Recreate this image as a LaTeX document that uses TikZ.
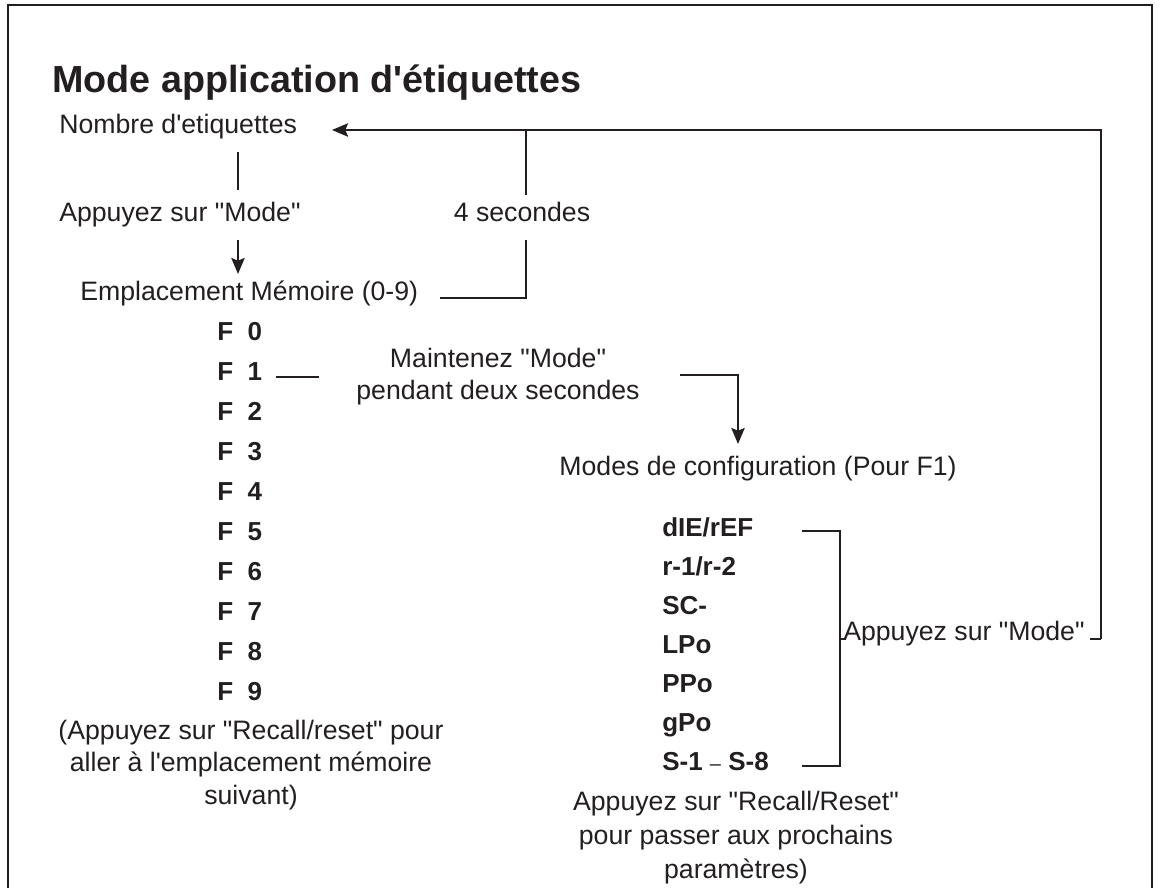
\documentclass[tikz,border=0pt]{standalone}
\usepackage{fontspec}
\setmainfont{Liberation Sans}
\newfontfamily\lsans{Liberation Sans}
\usetikzlibrary{arrows.meta}
\definecolor{ink}{HTML}{231F20}
\begin{document}
\begin{tikzpicture}[x=0.75pt,y=-0.75pt,
  txt/.style={inner sep=0pt, text=ink, font=\lsans\fontsize{20}{23.5}\selectfont},
  mtxt/.style={txt, align=center},
  btxt/.style={inner sep=0pt, text=ink, font=\lsans\fontsize{19.5}{23}\selectfont\bfseries, anchor=mid west},
  ln/.style={draw=ink, line width=1.6pt},
  arr/.style={ln, -{Stealth[length=12pt,width=10pt,inset=2pt]}}]
\useasboundingbox (0,0) rectangle (1160,888);
% frame
\draw[ln] (8,888) -- (8,5) -- (1152,5) -- (1152,888);
% title
\node[inner sep=0pt, text=ink, font=\lsans\fontsize{28.3}{34}\selectfont\bfseries, anchor=base west] (title) at (52,93) {Mode application d'étiquettes};
% left column
\node[txt, anchor=mid west] (nombre) at (59,130) {Nombre d'etiquettes};
\node[txt, anchor=mid west] (appuyez1) at (59,218) {Appuyez sur "Mode"};
\node[txt, anchor=mid west] (empl) at (80,297) {Emplacement Mémoire (0-9)};
\node[txt, anchor=mid] (quatre) at (522,218) {4 secondes};
\coordinate (v1a) at (238,152); \coordinate (v1b) at (238,190);
\coordinate (v2a) at (238,240); \coordinate (v2b) at (238,274);
\draw[ln] (v1a) -- (v1b);
\draw[arr] (v2a) -- (v2b);
\coordinate (e1) at (440,298); \coordinate (e2) at (526,298); \coordinate (e3) at (526,240);
\coordinate (q1) at (526,195); \coordinate (q2) at (526,130);
\coordinate (tr) at (1101,130); \coordinate (tip) at (332,130);
\coordinate (mr) at (1101,639); \coordinate (me) at (1090,639);
\draw[ln] (e1) -- (e2) -- (e3);
\draw[ln] (q1) -- (q2);
\draw[arr] (mr) -- (tr) -- (tip);
\draw[ln] (mr) -- (me);
% F list
\foreach \i in {0,...,9} {
  \node[btxt] (F\i) at (217,{337+40*\i}) {F\hspace{0.56em}\i};
}
\coordinate (f1a) at (276,377); \coordinate (f1b) at (319,377);
\draw[ln] (f1a) -- (f1b);
\node[mtxt, font=\lsans\fontsize{20}{24}\selectfont] (maint) at (498,377) {Maintenez "Mode"\\pendant deux secondes};
\coordinate (m1) at (680,375); \coordinate (m2) at (738,375); \coordinate (m3) at (738,444);
\draw[arr] (m1) -- (m2) -- (m3);
\node[mtxt, font=\lsans\fontsize{20}{24.4}\selectfont] (recall1) at (251,765) {(Appuyez sur "Recall/reset" pour\\aller à l'emplacement mémoire\\suivant)};
% right column
\node[txt, anchor=mid] (modes) at (758,472) {Modes de configuration (Pour F1)};
\node[btxt] (c0) at (662,533) {dIE/rEF};
\node[btxt] (c1) at (662,572) {r-1/r-2};
\node[btxt] (c2) at (662,611) {SC-};
\node[btxt] (c3) at (662,650) {LPo};
\node[btxt] (c4) at (662,689) {PPo};
\node[btxt] (c5) at (662,728) {gPo};
\node[btxt] (c6) at (662,767) {S-1 {\mdseries\fontsize{15}{18}\selectfont –} S-8};
\coordinate (b1) at (802,531); \coordinate (b2) at (840,531);
\coordinate (b3) at (840,766); \coordinate (b4) at (802,766);
\coordinate (b5) at (840,639); \coordinate (b6) at (844,639);
\draw[ln] (b1) -- (b2) -- (b3) -- (b4);
\draw[ln] (b5) -- (b6);
\node[txt, anchor=mid west] (appuyez2) at (843,637) {Appuyez sur "Mode"};
\node[mtxt, font=\lsans\fontsize{20}{25.5}\selectfont] (recall2) at (736,838) {Appuyez sur "Recall/Reset"\\pour passer aux prochains\\paramètres)};
\end{tikzpicture}
\end{document}
